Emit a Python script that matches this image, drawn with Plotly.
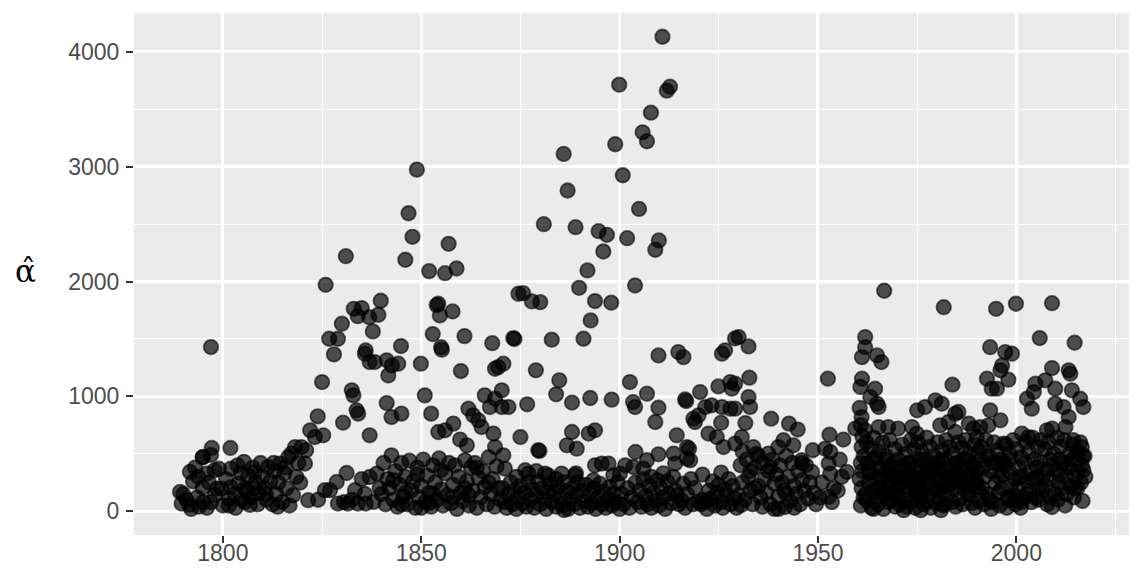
import plotly.graph_objects as go

# ---- data: (year, alpha_hat) ----
pts_upper = [
    (1797, 1430), (1825.9, 1972), (1831, 2221), (1848.9, 2975), (1846.8, 2595), (1847.8, 2390),
    (1856.9, 2329), (1846, 2190), (1852, 2091), (1856, 2073), (1858.9, 2114), (1854.3, 1807),
    (1853.9, 1795), (1854.7, 1705), (1857.9, 1740), (1839.8, 1833), (1833, 1763), (1835, 1769),
    (1834, 1699), (1836.9, 1690), (1839.2, 1711), (1830, 1633), (1837.8, 1566), (1826.8, 1502),
    (1829, 1502), (1852.9, 1543), (1860.9, 1525), (1867.9, 1464), (1874.5, 1894), (1844.9, 1438),
    (1836, 1400), (1855, 1429),
    (1910.8, 4132), (1899.9, 3715), (1912.7, 3697), (1911.9, 3663), (1907.9, 3471), (1905.8, 3300),
    (1906.9, 3222), (1898.9, 3196), (1885.9, 3112), (1900.8, 2926), (1886.9, 2793), (1904.9, 2633),
    (1880.9, 2500), (1888.9, 2474), (1894.7, 2439), (1896.8, 2407), (1901.9, 2378), (1909.9, 2358),
    (1909, 2277), (1895.9, 2262), (1891.9, 2097), (1889.8, 1946), (1903.9, 1966), (1893.8, 1830),
    (1897.9, 1816), (1875.7, 1899), (1877.9, 1827), (1880, 1821), (1892.7, 1662), (1873.2, 1508),
    (1873.5, 1500), (1882.9, 1494), (1890.9, 1502), (1929.1, 1505),
    (1828, 1366), (1835.8, 1372), (1837, 1299), (1825, 1125), (1832.5, 1053), (1832.9, 1009),
    (1833.7, 879), (1834.1, 850), (1830.3, 771), (1837, 661), (1823.9, 826), (1822, 705),
    (1823.2, 646), (1825.3, 661), (1818.2, 559), (1819.8, 559), (1821, 531),
    (1855.2, 1407), (1841.3, 1314), (1842.6, 1270), (1844.2, 1285), (1841.7, 1183), (1838.3, 1299),
    (1849.9, 1285), (1860, 1221), (1868.6, 1241), (1850.9, 1009), (1841.3, 942), (1842.5, 820),
    (1845, 850), (1852.5, 850), (1861.9, 893), (1863.1, 835), (1864.4, 792), (1865.2, 733),
    (1868.2, 676), (1866, 1009), (1867.3, 907), (1868.6, 980), (1854.3, 690), (1856, 705),
    (1858.1, 763), (1859.8, 624), (1861.5, 574),
    (1870.7, 1285), (1869.4, 1255), (1878.9, 1227), (1884.8, 1140), (1884, 1018), (1888, 946),
    (1892.6, 986), (1898, 972), (1876.7, 931), (1870.3, 1053), (1870.3, 907), (1872, 907),
    (1875, 646), (1888, 690), (1892.2, 676), (1893.8, 705), (1886.7, 574), (1889.2, 545),
    (1879.5, 531), (1879.8, 525), (1868.6, 559),
    (1909.8, 1357), (1914.8, 1386), (1916.1, 1342), (1925.8, 1372), (1926.6, 1401), (1902.6, 1125),
    (1906.9, 1024), (1903.4, 951), (1903.9, 907), (1909.8, 902), (1909, 777), (1916.5, 974),
    (1916.8, 960), (1920.3, 1038), (1924.9, 1087), (1927.9, 1125), (1928.3, 1067), (1921.6, 907),
    (1923.2, 922), (1919.9, 835), (1919, 777), (1918.6, 806), (1925.8, 907), (1927.9, 893),
    (1925.6, 771),
    (1930, 1517), (1932.5, 1435), (1932.7, 1163), (1929.1, 1111), (1932.5, 994), (1932.9, 907),
    (1929.1, 893), (1931.7, 768), (1938.2, 806), (1942.7, 763), (1944.9, 711), (1952.5, 1154),
    (1981.7, 1777), (1983.9, 1102), (1964.9, 1357), (1966, 1299), (1964.4, 1067), (1963.2, 994),
    (1964.9, 937), (1965.3, 907), (1966.7, 1920),
    (1961.9, 1517), (1961.9, 1429), (1961.1, 1342), (1961.1, 1154), (1960.7, 1082),
    (1994.9, 1763), (1999.9, 1807), (2009, 1812), (2005.9, 1508), (2014.7, 1468), (1993.4, 1429),
    (1997.2, 1386), (1998.9, 1372), (1996.4, 1270), (1996, 1227), (2009, 1247), (2013.2, 1227),
    (2013.6, 1198), (1992.6, 1154), (1998, 1146), (1993.8, 1067), (1995.1, 1067), (2004.8, 1111),
    (2007.3, 1140), (2004.4, 1038), (2009.8, 1067), (2002.7, 980), (2003.9, 893), (2014, 1053),
    (2016.1, 980), (2016.9, 907), (2009.8, 937), (2011.9, 907), (2013.2, 820), (2012.4, 733),
    (2009, 720), (2007.7, 705), (1993.4, 879), (1996, 792), (1993, 748), (1990.9, 733),
]

pts_1790_1822 = [
    (1789.2, 168), (1790, 150), (1789.6, 67), (1791.6, 55), (1792, 20), (1791.7, 342), (1793, 380),
    (1794.9, 470), (1795.9, 328), (1797.9, 356), (1799, 370), (1798.5, 197), (1799.7, 197),
    (1794.9, 206), (1795, 80), (1797, 80), (1800, 50), (1790.8, 100), (1792.5, 260), (1793.5, 120),
    (1796.5, 250), (1794, 40), (1796, 30), (1798, 140), (1797.2, 551), (1795, 472), (1797, 490),
    (1793.8, 300),
    (1801.9, 551), (1801.5, 50), (1802, 370), (1803.7, 400), (1805.3, 430), (1802, 210), (1804, 240),
    (1805.6, 200), (1806.4, 310), (1801.6, 110), (1805.5, 80), (1806.8, 55), (1800.8, 280),
    (1803, 150), (1804.5, 330), (1807.5, 380), (1808.2, 250), (1809, 160), (1807, 120),
    (1808.8, 60), (1810, 300), (1810.5, 200), (1811.4, 385), (1811, 100), (1812, 260),
    (1809.5, 420), (1806, 180), (1803.2, 30), (1808, 340), (1812.5, 60), (1804.8, 100),
    (1810.8, 150), (1807.8, 200),
    (1813, 350), (1813.5, 150), (1814.4, 415), (1814, 250), (1815, 80), (1815.5, 330),
    (1816.5, 472), (1817.3, 502), (1816, 200), (1817.7, 139), (1820.7, 415), (1821.5, 96),
    (1818.5, 300), (1819, 420), (1816.8, 50), (1813.8, 40), (1812.8, 420), (1815.8, 380),
    (1819.5, 250),
]

pts_1822_1870 = [
    (1825.7, 183), (1827, 183), (1828.7, 255), (1831.2, 333), (1833.3, 183), (1829, 67),
    (1831.5, 67), (1834, 67), (1836, 67), (1837, 298), (1838.8, 328), (1838, 81), (1830.5, 80),
    (1832.5, 100), (1835, 280), (1839.5, 200), (1835.8, 150), (1824, 100),
    (1840, 150), (1840.5, 420), (1841, 60), (1841.5, 280), (1842, 200), (1842.5, 487), (1843, 100),
    (1843.5, 350), (1844, 40), (1844.5, 230), (1845, 420), (1845.5, 130), (1846, 300),
    (1846.5, 60), (1847, 440), (1847.5, 180), (1848, 260), (1848.5, 30), (1849, 380),
    (1849.5, 120), (1850, 220), (1850.5, 450), (1851, 80), (1851.5, 310), (1852, 160),
    (1852.5, 40), (1853, 400), (1853.5, 250), (1854, 100), (1854.5, 460), (1855, 190),
    (1855.5, 50), (1856, 330), (1856.5, 140), (1857, 420), (1857.5, 70), (1858, 230),
    (1858.5, 400), (1859, 20), (1859.5, 300), (1860, 160), (1860.5, 90), (1861, 444),
    (1861.5, 260), (1862, 50), (1862.5, 380), (1863, 180), (1863.5, 420), (1864, 30),
    (1864.5, 290), (1865, 120), (1865.5, 350), (1866, 210), (1866.5, 60), (1867, 470),
    (1867.5, 150), (1868, 280), (1868.5, 40), (1869, 390), (1869.5, 200), (1870, 100),
    (1843, 270), (1846, 160), (1849, 320), (1852, 70), (1855, 360), (1858, 120), (1861, 200),
    (1864, 380), (1867, 250), (1853, 150), (1850, 30), (1845, 60), (1862, 140),
]

pts_1870_1930 = [
    (1870.7, 487), (1871.1, 371), (1876.2, 357), (1877, 328), (1881.2, 328), (1882, 313),
    (1885.4, 328), (1888.8, 313), (1893.8, 400), (1895.5, 415), (1897.2, 415), (1893.4, 270),
    (1898.4, 313),
    (1870.5, 200), (1871, 80), (1871.5, 30), (1872, 150), (1872.5, 250), (1873, 60), (1873.5, 180),
    (1874, 20), (1874.5, 120), (1875, 220), (1875.5, 70), (1876, 160), (1876.5, 40), (1877, 250),
    (1877.5, 100), (1878, 190), (1878.5, 30), (1879, 140), (1879.5, 260), (1880, 60),
    (1880.5, 200), (1881, 110), (1881.5, 20), (1882, 170), (1882.5, 240), (1883, 80),
    (1883.5, 150), (1884, 40), (1884.5, 210), (1885, 120), (1885.5, 50), (1886, 250),
    (1886.5, 170), (1887, 20), (1887.5, 100), (1888, 200), (1888.5, 60), (1889, 140),
    (1889.5, 250), (1890, 30), (1890.5, 180), (1891, 90), (1891.5, 230), (1892, 40),
    (1892.5, 150), (1893, 70), (1893.5, 200), (1894, 20), (1894.5, 120), (1895, 240),
    (1895.5, 60), (1896, 170), (1896.5, 30), (1897, 100), (1897.5, 210), (1898, 50),
    (1898.5, 150), (1899, 80), (1899.5, 250), (1900, 20), (1874, 300), (1879, 350), (1884, 280),
    (1889, 330), (1886, 10),
    (1904, 516), (1906.9, 444), (1909.8, 496), (1913.6, 502), (1914, 415), (1901.4, 400),
    (1903.5, 385), (1900.1, 328), (1920.9, 319), (1925.6, 337), (1927, 139), (1919.9, 81),
    (1921.6, 81), (1920.5, 60), (1921, 100), (1914.5, 139), (1915.6, 95), (1915, 60), (1914, 180),
    (1930, 139), (1930.6, 53), (1917, 559), (1917.5, 545), (1917, 457), (1917.8, 443),
    (1926.2, 559), (1929.1, 589), (1922.4, 676), (1924.5, 646), (1914.4, 661),
    (1900.5, 150), (1901, 60), (1902, 200), (1902.5, 30), (1903, 120), (1904, 250), (1904.5, 80),
    (1905, 180), (1905.5, 40), (1906, 280), (1906.5, 130), (1907, 60), (1907.5, 220), (1908, 30),
    (1908.5, 160), (1909, 90), (1909.5, 270), (1910, 50), (1910.5, 200), (1911, 120),
    (1911.5, 20), (1912, 260), (1912.5, 150), (1913, 70), (1913.5, 300), (1916, 240),
    (1916.5, 30), (1917, 150), (1918, 280), (1918.5, 60), (1919, 200), (1922, 20), (1922.5, 180),
    (1923, 110), (1923.5, 260), (1924, 50), (1924.5, 160), (1925, 230), (1925.5, 80), (1926, 30),
    (1926.5, 190), (1927.5, 280), (1928, 60), (1928.5, 220), (1929, 110), (1929.5, 30),
    (1908, 300), (1911, 330), (1906, 370),
]

pts_1930_1960 = [
    (1930.8, 646), (1933.7, 559), (1937.5, 502), (1940, 559), (1941.3, 618), (1943.8, 574),
    (1945.9, 444), (1948.7, 531), (1948.5, 342), (1941.7, 37),
    (1930.5, 400), (1931, 250), (1931.5, 100), (1932, 450), (1932.5, 300), (1933, 180),
    (1933.5, 60), (1934, 380), (1934.5, 500), (1935, 220), (1935.5, 120), (1936, 420),
    (1936.5, 280), (1937, 160), (1937.5, 350), (1938, 60), (1938.5, 450), (1939, 240),
    (1939.5, 320), (1940, 130), (1940.5, 400), (1941, 250), (1941.5, 180), (1942, 480),
    (1942.5, 300), (1943, 90), (1943.5, 420), (1944, 220), (1944.5, 150), (1945, 350),
    (1945.5, 60), (1946, 270), (1946.5, 180), (1947, 400), (1947.5, 110), (1948, 250),
    (1949, 160), (1949.5, 60), (1936, 40), (1939, 20), (1944, 30), (1934, 200), (1938, 380),
    (1942, 150), (1946, 420), (1931, 520), (1935, 480), (1940, 20), (1933, 350),
    (1951.8, 545), (1953.1, 516), (1952.7, 415), (1953.1, 328), (1957.3, 342), (1952.7, 125),
    (1952.9, 667), (1956.4, 624), (1951, 250), (1954, 200), (1955.5, 450), (1950.5, 120),
    (1953.5, 80), (1956, 300), (1955, 180),
    (1960.5, 900), (1961, 820), (1960.8, 750), (1961.2, 650), (1961, 560), (1961.5, 480),
    (1960.8, 420), (1961.2, 350), (1960.5, 280), (1961, 200), (1961.5, 120), (1960.8, 50),
]

pts_1960_1990 = [
    (1959.4, 720), (1961.9, 705), (1965.3, 733), (1967.7, 733), (1970.2, 720), (1973.7, 733),
    (1974.9, 676), (1975, 879), (1977, 907), (1979.6, 966), (1981.2, 937), (1984.6, 850),
    (1982.9, 777), (1980.8, 748), (1984.6, 690), (1985.4, 864), (1988, 763), (1989.2, 720),
    (1990, 646), (1971.6, 9), (1975.9, 9), (1981, 9),
    (1962.2, 600), (1962.5, 420), (1962.8, 250), (1962.4, 90),
    (1963.3, 550), (1963.1, 330), (1963.7, 180), (1963.5, 30),
    (1964.1, 640), (1964.6, 470), (1964.3, 280), (1964.8, 120),
    (1965.4, 520), (1965.2, 380), (1965.7, 200), (1965.1, 60),
    (1966.3, 600), (1966.8, 300), (1966.1, 150), (1966.5, 20),
    (1967.2, 480), (1967.6, 350), (1967.4, 220), (1967.9, 80),
    (1968.1, 620), (1968.5, 400), (1968.3, 260), (1968.7, 100),
    (1969.4, 540), (1969.2, 310), (1969.8, 170), (1969.5, 40),
    (1970.3, 450), (1970.7, 290), (1970.1, 130), (1970.5, 60),
    (1971.2, 580), (1971.6, 380), (1971.4, 220), (1971.8, 100),
    (1972.1, 500), (1972.5, 330), (1972.7, 180), (1972.3, 40),
    (1973.4, 620), (1973.2, 420), (1973.8, 260), (1973.6, 90),
    (1974.3, 540), (1974.1, 300), (1974.7, 150), (1974.5, 30),
    (1975.2, 600), (1975.6, 450), (1975.4, 280), (1975.8, 110),
    (1976.1, 520), (1976.5, 350), (1976.3, 200), (1976.7, 60),
    (1977.4, 640), (1977.2, 400), (1977.8, 240), (1977.6, 90),
    (1978.3, 560), (1978.1, 330), (1978.7, 170), (1978.5, 30),
    (1979.2, 480), (1979.6, 300), (1979.4, 200), (1979.8, 70),
    (1980.1, 600), (1980.5, 420), (1980.3, 260), (1980.7, 120),
    (1981.4, 530), (1981.2, 370), (1981.8, 210), (1981.6, 50),
    (1982.3, 620), (1982.1, 450), (1982.7, 300), (1982.5, 140),
    (1983.2, 560), (1983.6, 380), (1983.4, 230), (1983.8, 80),
    (1984.1, 500), (1984.5, 340), (1984.3, 190), (1984.7, 40),
    (1985.4, 600), (1985.2, 420), (1985.8, 270), (1985.6, 110),
    (1986.3, 550), (1986.1, 360), (1986.7, 200), (1986.5, 60),
    (1987.2, 620), (1987.6, 450), (1987.4, 300), (1987.8, 150),
    (1988.1, 500), (1988.5, 330), (1988.3, 210), (1988.7, 70),
    (1989.4, 580), (1989.2, 400), (1989.8, 240), (1989.6, 30),
    (1990.3, 520), (1990.1, 350), (1990.7, 180), (1990.5, 90),
    (1962.9, 350), (1963.9, 450), (1964.9, 200), (1965.9, 300), (1966.9, 450), (1967.1, 150),
    (1968.9, 330), (1969.1, 420), (1970.9, 380), (1971.1, 300), (1972.9, 420), (1973.1, 330),
    (1974.9, 400), (1975.1, 200), (1976.9, 450), (1977.1, 320), (1978.9, 420), (1979.1, 380),
    (1980.9, 330), (1981.1, 450), (1982.9, 220), (1983.1, 300), (1984.9, 420), (1985.1, 350),
    (1986.9, 450), (1987.1, 220), (1988.9, 400), (1989.1, 300), (1962, 150), (1964, 20),
    (1966, 380), (1968, 170), (1970, 220), (1972, 260), (1974, 220), (1976, 130), (1978, 250),
    (1980, 180), (1982, 60), (1984, 260), (1986, 290), (1988, 150), (1990, 260),
]

pts_1990_2018 = [
    (2014.4, 618), (2016.5, 559), (2015.7, 502), (2016.9, 357), (2009, 37), (1998, 96),
    (2001.4, 81), (2001.4, 676), (2003, 646), (1996.8, 589),
    (1991.2, 560), (1991.6, 380), (1991.4, 200), (1991.8, 60),
    (1992.3, 620), (1992.1, 300), (1992.7, 150),
    (1993.1, 480), (1993.5, 350), (1993.3, 100), (1993.7, 20),
    (1994.4, 600), (1994.2, 420), (1994.8, 250),
    (1995.2, 530), (1995.6, 300), (1995.4, 160), (1995.8, 50),
    (1996.1, 450), (1996.5, 320), (1996.3, 200),
    (1997.4, 580), (1997.2, 400), (1997.8, 120), (1997.6, 30),
    (1998.3, 500), (1998.1, 350), (1998.7, 220),
    (1999.2, 620), (1999.6, 280), (1999.4, 140), (1999.8, 60),
    (2000.1, 540), (2000.5, 380), (2000.3, 200),
    (2001.2, 470), (2001.6, 300), (2001.8, 120), (2001.1, 30),
    (2002.3, 600), (2002.1, 420), (2002.7, 260),
    (2003.2, 520), (2003.6, 350), (2003.4, 180), (2003.8, 80),
    (2004.1, 640), (2004.5, 450), (2004.3, 280),
    (2005.4, 560), (2005.2, 380), (2005.8, 200), (2005.6, 100),
    (2006.3, 620), (2006.1, 430), (2006.7, 300),
    (2007.2, 540), (2007.6, 360), (2007.4, 220), (2007.8, 60),
    (2008.1, 600), (2008.5, 450), (2008.3, 280),
    (2009.4, 500), (2009.2, 400), (2009.7, 150),
    (2010.3, 640), (2010.1, 350), (2010.7, 250), (2010.5, 100),
    (2011.2, 560), (2011.6, 420), (2011.4, 200),
    (2012.1, 620), (2012.5, 300), (2012.7, 150), (2012.3, 50),
    (2013.4, 500), (2013.2, 380), (2013.8, 220),
    (2014.3, 580), (2014.1, 450), (2014.7, 300), (2014.5, 120),
    (2015.2, 520), (2015.6, 350), (2015.4, 200),
    (2016.1, 600), (2016.5, 400), (2016.3, 250), (2016.7, 90),
    (2017.2, 480), (2017.4, 300),
    (1991, 450), (1992.5, 480), (1994, 80), (1996.8, 420), (1998.5, 450), (2000.8, 300),
    (2002.5, 150), (2004.8, 120), (2006.5, 180), (2008.8, 120), (2010.8, 450), (2012.8, 420),
    (2014.8, 200), (2016.8, 480), (2011, 320), (2005, 300), (1995, 420), (2000, 90),
]

x_ticks = [1800, 1850, 1900, 1950, 2000]
y_ticks = [0, 1000, 2000, 3000, 4000]

all_pts = pts_upper + pts_1790_1822 + pts_1822_1870 + pts_1870_1930 + pts_1930_1960 + pts_1960_1990 + pts_1990_2018
xs = [p[0] for p in all_pts]
ys = [p[1] for p in all_pts]

fig = go.Figure(go.Scatter(
    x=xs, y=ys, mode="markers",
    marker=dict(size=14.5, color="rgba(0,0,0,0.68)",
                line=dict(color="rgba(0,0,0,0.6)", width=1.8)),
    hoverinfo="x+y",
))

tickfont = dict(family="Liberation Sans, Arial, sans-serif", size=23, color="#4D4D4D")
fig.update_layout(
    width=1136, height=577,
    margin=dict(l=126, r=15, t=5, b=50),
    paper_bgcolor="white", plot_bgcolor="#EBEBEB",
    showlegend=False,
    xaxis=dict(range=[1777.6, 2028.4], tickvals=x_ticks, ticktext=[str(v) for v in x_ticks],
               showgrid=True, gridcolor="white", gridwidth=2.6, zeroline=False,
               ticks="outside", ticklen=7, tickwidth=2.4, tickcolor="#333333",
               tickfont=tickfont, showline=False, ticklabelstandoff=-10,
               minor=dict(tickvals=[1775, 1825, 1875, 1925, 1975, 2025], showgrid=True,
                          gridcolor="white", gridwidth=1.3, ticks="")),
    yaxis=dict(range=[-207, 4339], tickvals=y_ticks, ticktext=[str(v) for v in y_ticks],
               showgrid=True, gridcolor="white", gridwidth=2.6, zeroline=False,
               ticks="outside", ticklen=7, tickwidth=2.4, tickcolor="#333333",
               tickfont=tickfont, showline=False, ticklabelstandoff=2,
               minor=dict(tickvals=[500, 1500, 2500, 3500], showgrid=True,
                          gridcolor="white", gridwidth=1.3, ticks="")),
    annotations=[
        dict(text="α̂", xref="paper", yref="paper", x=-0.1095, y=0.505, showarrow=False,
             font=dict(family="DejaVu Serif, serif", size=31, color="black"),
             xanchor="center", yanchor="middle"),
    ],
)

fig.write_html("out.html")
